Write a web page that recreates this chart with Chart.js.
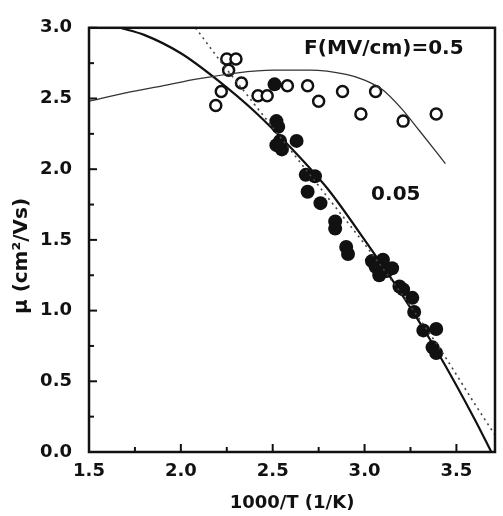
<!DOCTYPE html>
<html>
<head>
<meta charset="utf-8">
<script src="https://cdn.jsdelivr.net/npm/chart.js@4"></script>
<style>
    html, body { margin: 0; padding: 0; background: #fff; }
    #wrap { width: 503px; height: 516px; }
</style>
</head>
<body>
<div id="wrap"><canvas id="mobilityChart"></canvas></div>
<script>
// measured points, F = 0.5 MV/cm (open circles)
const openX = [2.19, 2.22, 2.25, 2.30, 2.26, 2.33, 2.42, 2.47, 2.58, 2.69, 2.75, 2.88, 2.98, 3.06, 3.21, 3.39];
const openY = [2.45, 2.55, 2.78, 2.78, 2.70, 2.61, 2.52, 2.52, 2.59, 2.59, 2.48, 2.55, 2.39, 2.55, 2.34, 2.39];

// measured points, F = 0.05 MV/cm (filled circles)
const filledX = [2.51, 2.52, 2.53, 2.52, 2.55, 2.54, 2.63, 2.68, 2.73, 2.69, 2.76, 2.84, 2.84, 2.90, 2.91,
                 3.04, 3.06, 3.08, 3.10, 3.12, 3.15, 3.19, 3.21, 3.26, 3.27, 3.32, 3.39, 3.37, 3.39];
const filledY = [2.60, 2.34, 2.30, 2.17, 2.14, 2.20, 2.20, 1.96, 1.95, 1.84, 1.76, 1.63, 1.58, 1.45, 1.40,
                 1.35, 1.31, 1.25, 1.36, 1.28, 1.30, 1.17, 1.15, 1.09, 0.99, 0.86, 0.87, 0.74, 0.70];

// fit curves
const fitLowX = [1.67, 1.8, 2.0, 2.2, 2.4, 2.6, 2.8, 3.0, 3.2, 3.4, 3.6, 3.69];
const fitLowY = [3.0, 2.95, 2.82, 2.63, 2.41, 2.15, 1.86, 1.50, 1.12, 0.70, 0.23, 0];

const dotLowX = [2.08, 2.2, 2.4, 2.6, 2.8, 3.0, 3.2, 3.4, 3.6, 3.71];
const dotLowY = [3.0, 2.79, 2.46, 2.13, 1.80, 1.47, 1.12, 0.75, 0.34, 0.12];

const fitHighX = [1.5, 1.7, 1.9, 2.1, 2.3, 2.5, 2.7, 2.9, 3.0, 3.1, 3.2, 3.3, 3.44];
const fitHighY = [2.48, 2.54, 2.59, 2.64, 2.68, 2.70, 2.70, 2.67, 2.63, 2.56, 2.43, 2.27, 2.04];

// axes
const xTicks = [1.5, 2.0, 2.5, 3.0, 3.5];
const yTicks = [0.0, 0.5, 1.0, 1.5, 2.0, 2.5, 3.0];
const xMinor = [1.75, 2.25, 2.75, 3.25];
const yMinor = [0.25, 0.75, 1.25, 1.75, 2.25, 2.75];
const xTitle = '1000/T (1/K)';
const yTitle = 'μ (cm²/Vs)';

const labels = [
    { text: 'F(MV/cm)=0.5', x: 3.105, y: 2.85 },
    { text: '0.05', x: 3.17, y: 1.82 }
];

function pts(xs, ys) {
    return xs.map((x, i) => ({ x: x, y: ys[i] }));
}

const FONT = '"DejaVu Sans", Arial, sans-serif';

const frameAndTicks = {
    id: 'frameAndTicks',
    afterDraw(chart) {
        const ctx = chart.ctx;
        const area = chart.chartArea;
        const xs = chart.scales.x;
        const ys = chart.scales.y;

        ctx.save();
        ctx.strokeStyle = '#111';
        ctx.lineWidth = 2.5;
        ctx.strokeRect(area.left, area.top, area.right - area.left, area.bottom - area.top);

        ctx.lineWidth = 2;
        xTicks.concat(xMinor).forEach(v => {
            const len = xMinor.includes(v) ? 5 : 8;
            const px = xs.getPixelForValue(v);
            ctx.beginPath();
            ctx.moveTo(px, area.bottom);
            ctx.lineTo(px, area.bottom - len);
            ctx.stroke();
        });
        yTicks.concat(yMinor).forEach(v => {
            const len = yMinor.includes(v) ? 5 : 8;
            const py = ys.getPixelForValue(v);
            ctx.beginPath();
            ctx.moveTo(area.left, py);
            ctx.lineTo(area.left + len, py);
            ctx.stroke();
        });

        ctx.fillStyle = '#111';
        ctx.textAlign = 'center';
        ctx.textBaseline = 'middle';
        ctx.font = 'bold 20px ' + FONT;
        labels.forEach(l => {
            ctx.fillText(l.text, xs.getPixelForValue(l.x), ys.getPixelForValue(l.y));
        });

        // axis titles
        ctx.font = 'bold 18px ' + FONT;
        ctx.fillText(xTitle, (area.left + area.right) / 2, 503);
        ctx.translate(22, 256);
        ctx.rotate(-Math.PI / 2);
        ctx.font = 'bold 20px ' + FONT;
        ctx.fillText(yTitle, 0, 0);
        ctx.restore();
    }
};

new Chart(document.getElementById('mobilityChart'), {
    type: 'scatter',
    data: {
        datasets: [
            {
                type: 'line',
                data: pts(fitHighX, fitHighY),
                borderColor: '#333',
                borderWidth: 1.3,
                pointRadius: 0,
                cubicInterpolationMode: 'monotone',
                fill: false
            },
            {
                type: 'line',
                data: pts(dotLowX, dotLowY),
                borderColor: '#444',
                borderWidth: 1.6,
                borderDash: [2, 4],
                pointRadius: 0,
                cubicInterpolationMode: 'monotone',
                fill: false
            },
            {
                type: 'line',
                data: pts(fitLowX, fitLowY),
                borderColor: '#111',
                borderWidth: 2.2,
                pointRadius: 0,
                cubicInterpolationMode: 'monotone',
                fill: false
            },
            {
                data: pts(openX, openY),
                pointRadius: 5.5,
                pointBackgroundColor: '#fff',
                pointBorderColor: '#111',
                pointBorderWidth: 2.5
            },
            {
                data: pts(filledX, filledY),
                pointRadius: 7,
                pointBackgroundColor: '#111',
                pointBorderColor: '#111',
                pointBorderWidth: 0
            }
        ]
    },
    options: {
        responsive: true,
        maintainAspectRatio: false,
        animation: false,
        layout: { padding: { left: 0, right: 3, top: 23, bottom: 0 } },
        plugins: {
            legend: { display: false },
            tooltip: { enabled: false }
        },
        scales: {
            x: {
                type: 'linear',
                min: 1.5,
                max: 3.71,
                afterBuildTicks: s => { s.ticks = xTicks.map(v => ({ value: v })); },
                afterFit: s => { s.height = 64; },
                grid: { display: false, drawTicks: false },
                border: { display: false },
                ticks: {
                    padding: 9,
                    color: '#111',
                    font: { family: FONT, size: 18, weight: 'bold' },
                    callback: v => v.toFixed(1)
                }
            },
            y: {
                type: 'linear',
                min: 0,
                max: 3.0,
                afterBuildTicks: s => { s.ticks = yTicks.map(v => ({ value: v })); },
                afterFit: s => { s.width = 89; },
                grid: { display: false, drawTicks: false },
                border: { display: false },
                ticks: {
                    padding: 17,
                    color: '#111',
                    font: { family: FONT, size: 18, weight: 'bold' },
                    callback: v => v.toFixed(1)
                }
            }
        }
    },
    plugins: [frameAndTicks]
});
</script>
</body>
</html>
